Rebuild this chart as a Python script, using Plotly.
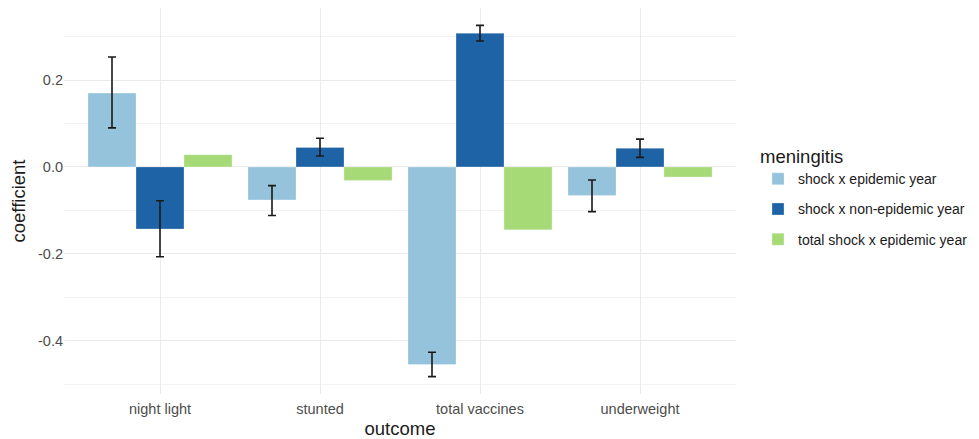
import plotly.graph_objects as go

outcomes = ["night light", "stunted", "total vaccines", "underweight"]
series_names = ["shock x epidemic year", "shock x non-epidemic year", "total shock x epidemic year"]
colors = ["#96C3DC", "#1D63A6", "#A6DA77"]

epi_coef = [0.170, -0.076, -0.455, -0.066]
epi_lo = [0.090, -0.112, -0.483, -0.103]
epi_hi = [0.253, -0.043, -0.427, -0.030]

nonepi_coef = [-0.143, 0.045, 0.308, 0.043]
nonepi_lo = [-0.207, 0.025, 0.290, 0.022]
nonepi_hi = [-0.078, 0.066, 0.326, 0.064]

total_coef = [0.028, -0.031, -0.145, -0.023]

fig = go.Figure()

def add(name, color, y, lo=None, hi=None):
    err = None
    if lo is not None:
        err = dict(type="data", symmetric=False,
                   array=[h - v for h, v in zip(hi, y)],
                   arrayminus=[v - l for v, l in zip(y, lo)],
                   color="#1a1a1a", thickness=1.6, width=4)
    fig.add_trace(go.Bar(name=name, x=outcomes, y=y, marker_color=color,
                         marker_line=dict(color="rgba(255,255,255,0.35)", width=0.8),
                         legendgroup=name, error_y=err))

add(series_names[0], colors[0], epi_coef, epi_lo, epi_hi)
add(series_names[1], colors[1], nonepi_coef, nonepi_lo, nonepi_hi)
add(series_names[2], colors[2], total_coef)

# page body adds an 8px offset; compensate
W, H = 971, 431
fig.update_layout(
    width=W, height=H,
    margin=dict(l=56, r=W - 56 - 672, t=0, b=H - 386, autoexpand=False),
    plot_bgcolor="white", paper_bgcolor="white",
    barmode="group", bargap=0.1, bargroupgap=0,
    font=dict(family="Liberation Sans, Arial, sans-serif", color="#4d4d4d"),
    legend=dict(title=dict(text="meningitis", font=dict(size=18.5, color="#1a1a1a")),
                x=1.0 + 22 / 672, xanchor="left", y=0.51, yanchor="middle",
                font=dict(size=14, color="#1a1a1a"), tracegroupgap=9,
                itemwidth=30),
    showlegend=True,
)
fig.update_xaxes(title=dict(text="outcome", font=dict(size=18.5, color="#1a1a1a"), standoff=8),
                 range=[-0.6, 3.6], showgrid=True, gridcolor="#ebebeb", gridwidth=1.2,
                 tickfont=dict(size=14.5, color="#4d4d4d"), ticks="", zeroline=False,
                 ticklabelstandoff=4, showline=False)
fig.update_yaxes(title=dict(text="coefficient", font=dict(size=18.5, color="#1a1a1a"), standoff=9),
                 range=[-0.523, 0.366], tickvals=[-0.4, -0.2, 0.0, 0.2],
                 ticktext=["-0.4", "-0.2", "0.0", "0.2"],
                 showgrid=True, gridcolor="#ebebeb", gridwidth=1.2,
                 minor=dict(tickvals=[-0.5, -0.3, -0.1, 0.1, 0.3], showgrid=True,
                            gridcolor="#f3f3f3", gridwidth=0.8),
                 tickfont=dict(size=14.5, color="#4d4d4d"), ticks="", zeroline=False,
                 showline=False)

fig.write_html("out.html")
